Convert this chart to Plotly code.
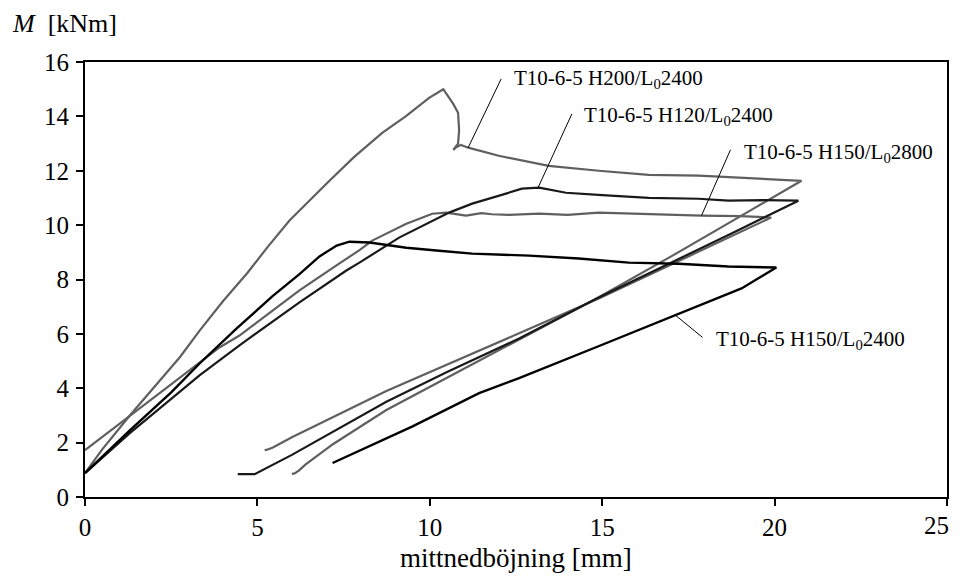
import plotly.graph_objects as go

# ---- data (mittnedböjning [mm], M [kNm]) ----
h200_x = [0.0, 0.5, 1.3, 2.0, 2.75, 3.33, 4.0, 4.72, 5.3, 5.93, 6.5, 7.09, 7.8, 8.62, 9.3, 9.98, 10.39,
          10.68, 10.82, 10.85, 10.82, 10.68, 10.75, 10.9, 11.14, 12.0, 13.45, 14.9, 16.35, 17.8, 19.3, 20.78,
          19.04, 17.0, 14.9, 12.59, 10.5, 8.74, 7.2, 6.4, 6.2, 6.08, 6.0]
h200_y = [0.88, 1.75, 3.0, 4.05, 5.14, 6.13, 7.2, 8.26, 9.2, 10.17, 10.9, 11.63, 12.5, 13.39, 14.0, 14.68, 15.0,
          14.46, 14.13, 13.5, 13.0, 12.77, 12.85, 12.95, 12.84, 12.55, 12.18, 12.0, 11.85, 11.82, 11.72, 11.63,
          10.35, 8.85, 7.35, 5.8, 4.4, 3.2, 1.95, 1.2, 0.97, 0.87, 0.85]

h120_x = [0.0, 1.3, 3.33, 4.48, 6.22, 7.58, 7.96, 9.11, 10.56, 11.23, 12.21, 12.67, 13.17, 13.95, 15.0, 15.77,
          16.35, 17.8, 18.66, 19.7, 20.69,
          18.75, 16.8, 14.9, 12.59, 10.5, 8.74, 6.0, 4.92, 4.43]
h120_y = [0.88, 2.35, 4.48, 5.58, 7.16, 8.33, 8.62, 9.54, 10.46, 10.79, 11.16, 11.34, 11.38, 11.19, 11.1, 11.05,
          11.0, 10.97, 10.9, 10.92, 10.9,
          9.69, 8.5, 7.34, 5.83, 4.6, 3.5, 1.55, 0.84, 0.84]

h150_2800_x = [0.0, 1.3, 3.9, 4.48, 6.22, 7.38, 7.96, 8.33, 9.32, 10.07, 10.47, 11.05, 11.5, 11.8, 12.3, 13.17,
               14.0, 14.9, 15.77, 16.8, 17.88, 19.0, 19.9,
               17.5, 14.9, 12.59, 8.74, 6.0, 5.45, 5.28, 5.21]
h150_2800_y = [1.72, 2.97, 5.5, 5.94, 7.6, 8.59, 9.08, 9.43, 10.05, 10.42, 10.46, 10.35, 10.44, 10.4, 10.38, 10.42,
               10.38, 10.46, 10.42, 10.4, 10.35, 10.33, 10.28,
               8.85, 7.3, 6.02, 3.9, 2.2, 1.82, 1.74, 1.72]

h150_2400_x = [0.0, 1.3, 2.5, 3.33, 4.4, 5.44, 6.22, 6.8, 7.3, 7.67, 8.25, 9.32, 10.27, 11.23, 12.88, 14.32,
               15.77, 17.22, 18.66, 20.05,
               19.04, 17.13, 15.0, 12.59, 11.43, 9.5, 7.18]
h150_2400_y = [0.88, 2.45, 3.85, 4.92, 6.2, 7.39, 8.2, 8.85, 9.25, 9.39, 9.36, 9.17, 9.06, 8.95, 8.88, 8.77,
               8.62, 8.58, 8.48, 8.44,
               7.67, 6.68, 5.6, 4.37, 3.82, 2.6, 1.25]

x_tickvals = [0, 5, 10, 15, 20, 25]
x_ticktext = ["0", "5", "10", "15", "20", "25"]

GRAY = "rgb(95,95,95)"
BLACK = "rgb(0,0,0)"
FONT = "Liberation Serif"

fig = go.Figure()
series = [
    ("T10-6-5 H150/L0 2800", h150_2800_x, h150_2800_y, GRAY, 2.2),
    ("T10-6-5 H200/L0 2400", h200_x, h200_y, GRAY, 2.2),
    ("T10-6-5 H120/L0 2400", h120_x, h120_y, "rgb(25,25,25)", 2.2),
    ("T10-6-5 H150/L0 2400", h150_2400_x, h150_2400_y, BLACK, 2.4),
]
for name, xs, ys, col, w in series:
    fig.add_trace(go.Scatter(x=xs, y=ys, mode="lines", name=name,
                             line=dict(color=col, width=w), showlegend=False))

# labels with pointer lines: (text, text_x, text_y, line from (x0,y0) to (x1,y1))
labels = [
    ("T10-6-5 H200/L<sub>0</sub>2400", 12.38, 15.38, (11.11, 12.84), (12.07, 15.38)),
    ("T10-6-5 H120/L<sub>0</sub>2400", 14.41, 14.02, (13.14, 11.38), (14.12, 14.09)),
    ("T10-6-5 H150/L<sub>0</sub>2800", 19.04, 12.66, (17.88, 10.35), (18.72, 12.77)),
    ("T10-6-5 H150/L<sub>0</sub>2400", 18.23, 5.76, (17.13, 6.68), (17.91, 5.87)),
]
for txt, tx, ty, p0, p1 in labels:
    fig.add_annotation(x=tx, y=ty, text=txt, showarrow=False, xanchor="left", yanchor="middle",
                       font=dict(family=FONT, size=21, color="black"))
    fig.add_shape(type="line", x0=p0[0], y0=p0[1], x1=p1[0], y1=p1[1],
                  line=dict(color="black", width=1))

# page offset of the figure inside the browser body (default 8px body margin)
OFF = 8
W, H = 961 - 2 * OFF, 581 - 2 * OFF
L, T, R, B = 85 - OFF, 62 - OFF, 961 - 949 - OFF, 581 - 497 - OFF
PW, PH = W - L - R, H - T - B

fig.add_annotation(xref="paper", yref="paper", x=(10 - 85) / PW, y=(497 - 23) / PH,
                   xanchor="left", yanchor="middle",
                   text="<i>M</i>\u00a0\u00a0[kNm]", showarrow=False,
                   font=dict(family=FONT, size=26, color="black"))
fig.add_annotation(xref="paper", yref="paper", x=0.5, y=(497 - 558) / PH, xanchor="center", yanchor="middle",
                   text="mittnedböjning [mm]", showarrow=False,
                   font=dict(family=FONT, size=27, color="black"))
# last x tick label sits at the right page edge; drawn right-aligned so it stays inside the figure
fig.add_annotation(xref="paper", yref="paper", x=(961 - OFF - 85) / PW, y=(497 - 525) / PH,
                   xanchor="right", yanchor="middle", text=x_ticktext[-1], showarrow=False,
                   font=dict(family=FONT, size=25, color="black"))

axis_common = dict(showline=True, linecolor="black", linewidth=2, mirror=True, ticks="outside",
                   ticklen=7, tickwidth=1.5, tickcolor="black", showgrid=False, zeroline=False,
                   tickfont=dict(family=FONT, size=25, color="black"))
fig.update_xaxes(range=[0, 25], tickvals=x_tickvals, ticktext=x_ticktext[:-1] + [""], **axis_common)
fig.update_yaxes(range=[0, 16], tick0=0, dtick=2, ticklabelstandoff=2, **axis_common)

fig.update_layout(width=W, height=H, margin=dict(l=L, r=R, t=T, b=B),
                  plot_bgcolor="white", paper_bgcolor="white",
                  font=dict(family=FONT, color="black"))

fig.write_html("out.html", config={"displayModeBar": False})
